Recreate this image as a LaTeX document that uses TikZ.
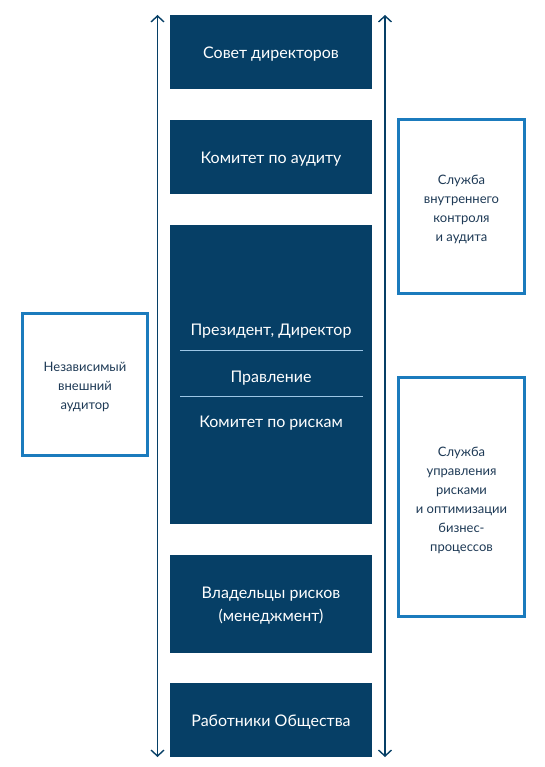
\documentclass[tikz,border=0pt]{standalone}
\usepackage{fontspec}
\setmainfont{Lato}
\usetikzlibrary{arrows.meta}
\definecolor{navy}{HTML}{063F66}
\definecolor{frameblue}{HTML}{1B7BBD}
\definecolor{txtnavy}{HTML}{1E3A56}
\definecolor{divblue}{HTML}{9CC6E6}
\tikzset{
  darkbox/.style={fill=navy, draw=none, text=white, minimum width=202pt, inner sep=0pt, align=center, font=\fontsize{16}{23}\selectfont},
  intext/.style={text=white, font=\fontsize{16}{18}\selectfont},
  sidebox/.style={draw=frameblue, line width=3.5pt, fill=white, text=txtnavy, inner sep=0pt, align=center, font=\fontsize{13}{19}\selectfont},
  axis/.style={draw=navy, line width=1.4pt, {Straight Barb[length=6pt,width=13pt]}-{Straight Barb[length=6pt,width=13pt]}},
  divider/.style={draw=divblue, line width=1pt}
}
\begin{document}
\begin{tikzpicture}[x=1pt,y=-1pt]
\useasboundingbox (0,0) rectangle (544,767);
% dark column
\node[darkbox, minimum height=74pt] (b1) at (271,52) {};
\node[intext] (b1t) at (271,54) {Совет директоров};
\node[darkbox, minimum height=74pt] (b2) at (271,157) {};
\node[intext] (b2t) at (271,159) {Комитет по аудиту};
\node[darkbox, minimum height=299pt] (b3) at (271,374.5) {};
\node[darkbox, minimum height=98pt] (b4) at (271,604) {};
\node[intext, align=center, font=\fontsize{16}{23}\selectfont] (b4t) at (271,606) {Владельцы рисков\\(менеджмент)};
\node[darkbox, minimum height=74pt] (b5) at (271,720) {};
\node[intext] (b5t) at (271,722) {Работники Общества};
% texts inside the large box
\node[intext] (t1) at (271,331) {Президент, Директор};
\node[intext] (t2) at (271,378) {Правление};
\node[intext] (t3) at (271,423) {Комитет по рискам};
\coordinate (d1l) at (180,350); \coordinate (d1r) at (363,350);
\coordinate (d2l) at (180,396); \coordinate (d2r) at (363,396);
\draw[divider] (d1l) -- (d1r);
\draw[divider] (d2l) -- (d2r);
% vertical arrows
\coordinate (Lt) at (157.5,15); \coordinate (Lb) at (157.5,757);
\coordinate (Rt) at (385,15); \coordinate (Rb) at (385,757);
\draw[axis] (Lt) -- (Lb);
\draw[axis] (Rt) -- (Rb);
% side boxes
\node[sidebox, minimum width=126pt, minimum height=174pt] (s1) at (461.5,206.5) {};
\node[text=txtnavy, align=center, font=\fontsize{13}{19}\selectfont] (s1t) at (461.5,209) {Служба\\внутреннего\\контроля\\и аудита};
\node[sidebox, minimum width=126pt, minimum height=239pt] (s2) at (461.5,497) {};
\node[text=txtnavy, align=center, font=\fontsize{13}{19}\selectfont] (s2t) at (461.5,500) {Служба\\управления\\рисками\\и оптимизации\\бизнес-\\процессов};
\node[sidebox, minimum width=125pt, minimum height=142pt] (s3) at (85,384.5) {};
\node[text=txtnavy, align=center, font=\fontsize{13}{19}\selectfont] (s3t) at (85,387) {Независимый\\внешний\\аудитор};
\end{tikzpicture}
\end{document}
